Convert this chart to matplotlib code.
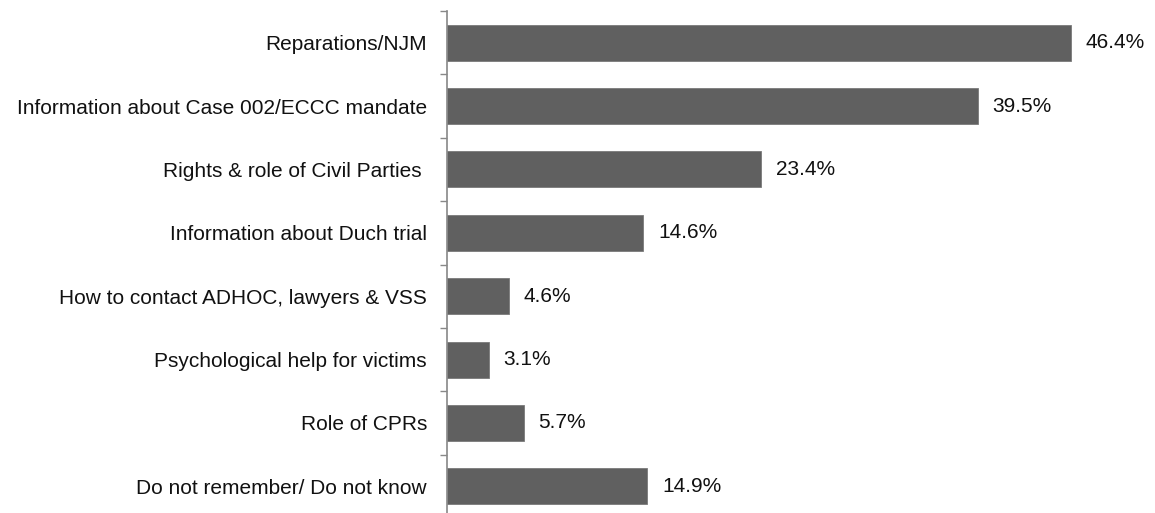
import matplotlib.pyplot as plt
import numpy as np

plt.rcParams['font.family'] = ['Liberation Sans', 'DejaVu Sans']

categories = ['Reparations/NJM',
              'Information about Case 002/ECCC mandate',
              'Rights & role of Civil Parties ',
              'Information about Duch trial',
              'How to contact ADHOC, lawyers & VSS',
              'Psychological help for victims',
              'Role of CPRs',
              'Do not remember/ Do not know']
values = [46.4, 39.5, 23.4, 14.6, 4.6, 3.1, 5.7, 14.9]

fig = plt.figure(figsize=(11.55, 5.13), dpi=100)
ax = fig.add_axes([447 / 1155, -5 / 513, 672 / 1155, 507 / 513])

y = np.arange(len(categories))
ax.barh(y, values, height=0.57, color='#606060', edgecolor='#7a7a7a', linewidth=0.6)

for yi, v in zip(y, values):
    ax.text(v + 1.1, yi, f'{v:.1f}%', va='center', ha='left', fontsize=15, color='#111111')

ax.set_ylim(len(categories) - 0.5, -0.5)
ax.set_xlim(0, 50)
ax.set_yticks(y)
ax.set_yticklabels(categories, fontsize=15, color='#111111')
ax.set_yticks(np.arange(-0.5, len(categories) + 0.5, 1), minor=True)
ax.tick_params(axis='y', which='major', length=0, pad=14.4)
ax.tick_params(axis='y', which='minor', length=5, color='#888888', width=1)
ax.set_xticks([])

for side in ['top', 'right', 'bottom']:
    ax.spines[side].set_visible(False)
ax.spines['left'].set_color('#888888')
ax.spines['left'].set_linewidth(1.2)

plt.savefig('out.png', dpi=100)
